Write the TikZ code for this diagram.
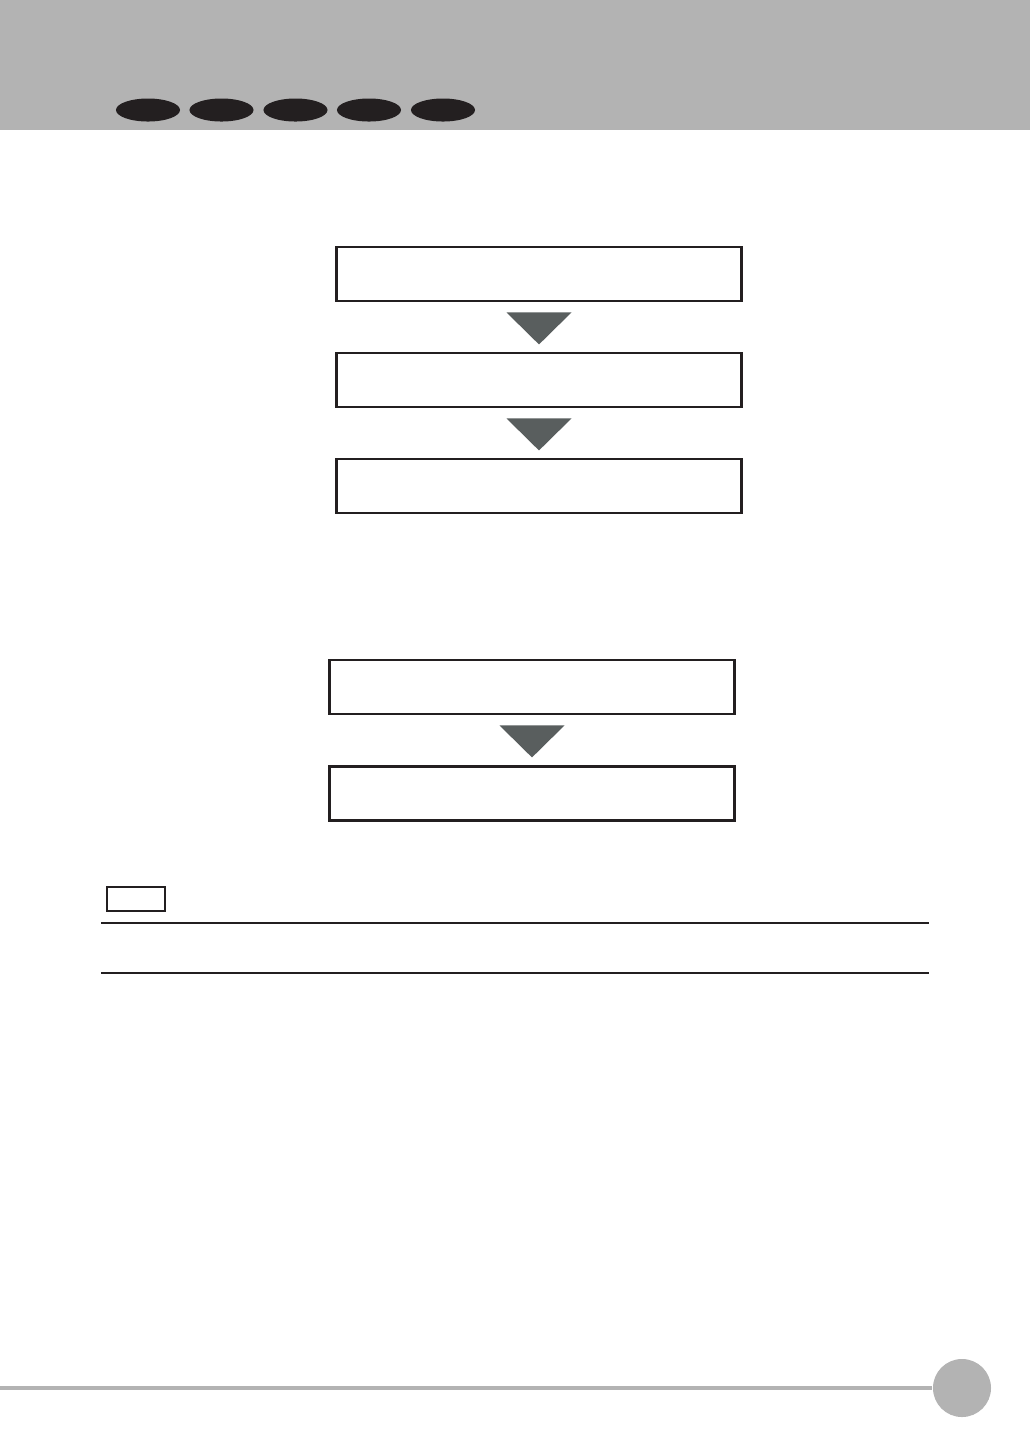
\documentclass[tikz,border=0pt]{standalone}
\usepackage{xcolor}
\usepackage{tikz}
\usetikzlibrary{calc, shapes.geometric}

\definecolor{headgray}{HTML}{B3B3B3}
\definecolor{inkdark}{HTML}{231F20}
\definecolor{arrowgray}{HTML}{595E5E}

\tikzset{
	stepbox/.style = {draw = inkdark, line width = 0.8pt, fill = white, minimum width = 4.04cm, minimum height = 0.54cm, inner sep = 0pt},
	tab/.style = {fill = inkdark, ellipse, minimum width = 0.64cm, minimum height = 0.23cm, inner sep = 0pt},
}

\begin{document}
\begin{tikzpicture}[x = 0.01cm, y = -0.01cm]
		\def\aw{32.5};
		\def\gap{10};
		\def\ah{32};
		
		\useasboundingbox (0, 0) rectangle (1030, 1456);
		\fill [white] (0, 0) rectangle (1030, 1456);
		
		% header band
		\fill [headgray] (0, 0) rectangle (1030, 130);
		\foreach \i/\cx in {1/148, 2/221.5, 3/295.5, 4/369, 5/443} {
			\node [tab] (tab\i) at (\cx, 110) {};
		}
		
		% first flow
		\node [stepbox] (stepA) at (539, 274) {};
		\node [stepbox] (stepB) at (539, 380) {};
		\node [stepbox] (stepC) at (539, 486) {};
		
		% second flow
		\node [stepbox] (stepD) at (532, 687) {};
		\node [stepbox] (stepE) at (532, 793.5) {};
		
		\foreach \a in {stepA, stepB, stepD} {
			\fill [arrowgray] ($(\a.south) + (-\aw, \gap)$) -- ++({2*\aw}, 0) -- ($(\a.south) + (0, {\gap + \ah})$) -- cycle;
		}
		
		% note
		\node [draw = inkdark, line width = 0.5pt, minimum width = 0.58cm, minimum height = 0.24cm, inner sep = 0pt] (note) at (136, 899) {};
		\draw [inkdark, line width = 0.6pt] (101, 923) -- (929, 923);
		\draw [inkdark, line width = 0.6pt] (101, 973) -- (929, 973);
		
		% footer
		\node [circle, fill = headgray, minimum size = 0.58cm, inner sep = 0pt] (page) at (962, 1388) {};
		\draw [headgray, line width = 1pt] (0, 1388) -- (page.west);
	\end{tikzpicture}
\end{document}
